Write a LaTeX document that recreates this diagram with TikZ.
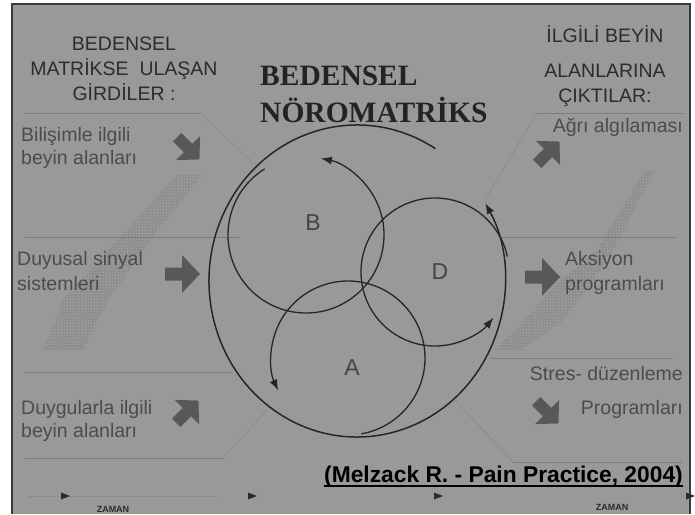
\documentclass[tikz,border=0pt]{standalone}
\usepackage{fontspec}
\setmainfont{Liberation Sans}
\newfontfamily\titlefont{Liberation Serif}
\usetikzlibrary{arrows.meta,patterns}

\definecolor{panelgray}{HTML}{999999}
\definecolor{framegray}{HTML}{3A3A3A}
\definecolor{inkgray}{HTML}{2C2C2C}
\definecolor{itemgray}{HTML}{4C4C4C}
\definecolor{fatgray}{HTML}{585858}
\definecolor{rulegray}{HTML}{7C7C7C}
\definecolor{faintgray}{HTML}{878787}
\definecolor{loopgray}{HTML}{262626}
\definecolor{dotgray}{HTML}{B0B0B0}

\tikzset{
  heading/.style={text=inkgray,font=\fontsize{19.5}{25}\selectfont,align=center,inner sep=0pt},
  itemtext/.style={text=itemgray,font=\fontsize{19.5}{23}\selectfont,inner sep=0pt},
  letter/.style={text=itemgray!90!black,font=\fontsize{23}{23}\selectfont,inner sep=0pt},
  loop/.style={draw=loopgray,line width=1.3pt,->},
  sepline/.style={draw=rulegray,line width=0.7pt},
  faintline/.style={draw=faintgray,line width=0.5pt},
  band/.style={pattern=crosshatch dots,pattern color=dotgray},
  pics/fatarrow/.style={code={
    \fill[fatgray] (-17,-6.5) -- (0,-6.5) -- (0,-19) -- (18,0) -- (0,19) -- (0,6.5) -- (-17,6.5) -- cycle;
  }}
}

\begin{document}
\begin{tikzpicture}[x=1pt,y=-1pt,>={Latex[length=11pt,width=8pt]}]
        \useasboundingbox (0,0) rectangle (695,514);
        \fill[white] (0,0) rectangle (695,514);
        \fill[panelgray] (12,4) rectangle (690,514);
        \draw[framegray,line width=1.2pt] (12,514) -- (12,4) -- (690,4) -- (690,514);

        % halftone bands
        \fill[black,opacity=0.08] (177,175) -- (202,175) -- (153,237) -- (108,300) -- (83,350) -- (43,350) -- (63,300) -- (120,237) -- cycle;
        \fill[band] (177,175) -- (202,175) -- (153,237) -- (108,300) -- (83,350) -- (43,350) -- (63,300) -- (120,237) -- cycle;
        \fill[black,opacity=0.08] (645,170) -- (655,170) -- (613,250) -- (587,290) -- (560,323) -- (520,350) -- (493,350) -- (523,323) -- (550,290) -- (597,250) -- cycle;
        \fill[band] (645,170) -- (655,170) -- (613,250) -- (587,290) -- (560,323) -- (520,350) -- (493,350) -- (523,323) -- (550,290) -- (597,250) -- cycle;

        % separators of the input and output fields
        \draw[sepline] (25,113) -- (200,113);
        \draw[faintline] (200,113) -- (253,163);
        \draw[sepline] (25,237) -- (240,237);
        \draw[sepline] (25,372) -- (233,372);
        \draw[sepline] (25,458) -- (223,458);
        \draw[faintline] (223,458) -- (267,410);
        \draw[sepline] (683,113) -- (537,113);
        \draw[faintline] (537,113) -- (485,200);
        \draw[sepline] (500,237) -- (677,237);
        \draw[sepline] (490,358) -- (673,358);
        \draw[sepline] (682,462) -- (513,462);
        \draw[faintline] (513,462) -- (455,400);

        \coordinate (outer) at (357,281);
        \coordinate (cB) at (306,235);
        \coordinate (cA) at (348,358);
        \coordinate (cD) at (435,272);

        % neuromatrix loops
        \draw[loop,line width=1.5pt] (outer) ++(-58:148 and 156) arc[start angle=-58,end angle=-390,x radius=148,y radius=156];
        \draw[loop] (cB) ++(-122:78) arc[start angle=-122,end angle=-439,radius=78];
        \draw[loop] (cA) ++(80:77) arc[start angle=80,end angle=-205,radius=77];
        \draw[loop] (cD) ++(-12:74) arc[start angle=-12,end angle=-322,radius=74];

        \node[letter] (lB) at (313,223) {B};
        \node[letter] (lD) at (440,272) {D};
        \node[letter] (lA) at (352,368) {A};

        \node[font=\titlefont\bfseries\fontsize{29.5}{37}\selectfont,text=inkgray!80!black,align=left,anchor=base west,inner sep=0pt] (title) at (260,122) {BEDENSEL\\NÖROMATRİKS};

        \node[heading,anchor=base] (inhead) at (124,100) {BEDENSEL\\MATRİKSE\ \ ULAŞAN\\GİRDİLER :};
        \node[heading,anchor=base] (outhead) at (605,102) {İLGİLİ BEYİN\\[10pt]ALANLARINA\\ÇIKTILAR:};

        \node[itemtext,align=left,anchor=base west] (cog) at (21,164) {Bilişimle ilgili\\beyin alanları};
        \node[itemtext,align=left,anchor=base west,font=\fontsize{19.5}{25}\selectfont] (sens) at (17,290) {Duyusal sinyal\\sistemleri};
        \node[itemtext,align=left,anchor=base west] (emo) at (21,437) {Duygularla ilgili\\beyin alanları};
        \node[itemtext,anchor=base east] (pain) at (683,132) {Ağrı algılaması};
        \node[itemtext,align=left,anchor=base west,font=\fontsize{19.5}{25}\selectfont] (act) at (565,290) {Aksiyon\\programları};
        \node[itemtext,anchor=base east] (stress) at (683,380) {Stres- düzenleme};
        \node[itemtext,anchor=base east] (prog) at (683,414) {Programları};

        % fat arrows in and out
        \pic[scale=0.9,rotate=-45] at (188,148) {fatarrow};
        \pic at (182,274) {fatarrow};
        \pic[scale=0.9,rotate=45] at (187,412) {fatarrow};
        \pic[scale=0.9,rotate=45] at (548,153) {fatarrow};
        \pic at (542,277) {fatarrow};
        \pic[scale=0.9,rotate=-45] at (547,412) {fatarrow};

        \node[anchor=base east,inner sep=0pt,font=\bfseries\fontsize{22.8}{23}\selectfont] (cite) at (683,482) {(Melzack R. - Pain Practice, 2004)};
        \draw[line width=1.8pt] ([yshift=-4pt]cite.base west) -- ([yshift=-4pt]cite.base east);

        % time axis
        \draw[faintgray,densely dotted,line width=0.6pt] (28,496) -- (218,496);
        \foreach \tx in {70,257,443,695}
          \fill[inkgray] (\tx,496) -- ++(-9,-3.5) -- ++(0,7) -- cycle;
        \node[font=\bfseries\fontsize{9}{9}\selectfont,text=inkgray,anchor=base,inner sep=0pt] (timeL) at (113,512) {ZAMAN};
        \node[font=\bfseries\fontsize{9}{9}\selectfont,text=inkgray,anchor=base,inner sep=0pt] (timeR) at (612,510) {ZAMAN};
\end{tikzpicture}
\end{document}
